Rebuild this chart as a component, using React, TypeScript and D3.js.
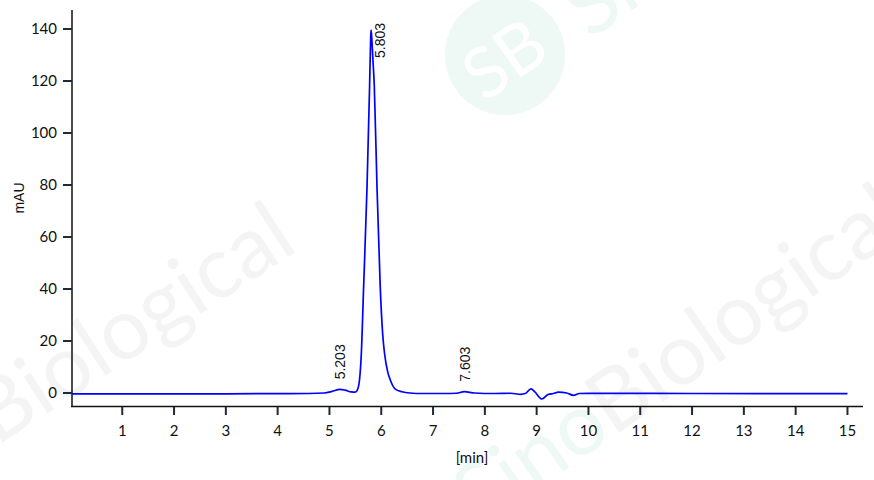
import React from "react";
import * as d3 from "d3";

// Chromatogram trace: retention time (min) and absorbance (mAU)
const times = [
  0.03, 1.0, 2.0, 3.0, 4.0, 4.6, 4.9, 5.05, 5.203, 5.3, 5.42, 5.5, 5.54, 5.58,
  5.615, 5.66, 5.725, 5.775, 5.795, 5.803, 5.815, 5.84, 5.866, 5.918, 5.98,
  6.03, 6.065, 6.12, 6.175, 6.27, 6.4, 6.55, 6.8, 7.2, 7.45, 7.603, 7.8, 8.2,
  8.5, 8.69, 8.78, 8.89, 8.97, 9.1, 9.22, 9.32, 9.42, 9.58, 9.71, 9.82, 10.0,
  12.0, 15.0,
];
const absorbance = [
  -0.3, -0.3, -0.3, -0.3, -0.25, -0.2, 0.0, 0.6, 1.4, 1.1, 0.4, 0.3, 1.2, 5,
  15, 41, 79, 118, 136, 139.6, 137, 128, 118, 79, 41,
  22, 15, 8.5, 5, 1.5, 0.5, 0.0, -0.2, -0.2, -0.1, 0.5, 0.0, -0.2,
  -0.1, -0.5, -0.2, 1.6, 0.3, -2.3, -0.6, -0.2, 0.3, 0.0, -0.9, -0.2, -0.15,
  -0.2, -0.25,
];

// Integrated peaks (retention time labels)
const peakTimes = [5.203, 5.803, 7.603];
const peakHeights = [1.4, 139.6, 0.5];

const xTicks = [1, 2, 3, 4, 5, 6, 7, 8, 9, 10, 11, 12, 13, 14, 15];
const yTicks = [0, 20, 40, 60, 80, 100, 120, 140];

const W = 874;
const H = 480;

export default function App() {
  const x = d3.scaleLinear().domain([0.03, 15.3]).range([72, 863]);
  const y = d3.scaleLinear().domain([-5, 147.3]).range([406, 10]);

  const points: [number, number][] = times.map((t, i) => [t, absorbance[i]]);
  const line = d3
    .line<[number, number]>()
    .x((d) => x(d[0]))
    .y((d) => y(d[1]))
    .curve(d3.curveMonotoneX);

  const tickFont = "Lato, 'Open Sans', sans-serif";
  const labelFont = "'Liberation Sans', Arial, sans-serif";
  const labelLen = 36;

  return (
    <svg
      width={W}
      height={H}
      style={{ position: "absolute", left: 0, top: 0, background: "#fff" }}
    >
      {/* watermark */}
      <g style={{ pointerEvents: "none" }} fontFamily="Lato, sans-serif">
        <g transform="translate(-140,535) rotate(-33)">
          <text fontSize={86} fill="#eef8f4">
            Sino<tspan fill="#f4f4f4">Biological</tspan>
          </text>
        </g>
        <g transform="translate(480,530) rotate(-35)">
          <text fontSize={86} fill="#eef8f4">
            Sino<tspan fill="#f4f4f4">Biological</tspan>
          </text>
        </g>
        <circle cx={505} cy={55} r={60} fill="#eef8f5" />
        <g transform="translate(503,57) rotate(-35)">
          <text
            fontSize={70}
            fill="#ffffff"
            textAnchor="middle"
            dominantBaseline="central"
          >
            SB
          </text>
        </g>
        <g transform="translate(590,40) rotate(-35)">
          <text fontSize={84} fill="#eef8f4">
            Sino
          </text>
        </g>
      </g>

      {/* axes */}
      <line x1={72} x2={72} y1={10} y2={407} stroke="#111" strokeWidth={1.5} />
      <line x1={71} x2={863} y1={406.5} y2={406.5} stroke="#111" strokeWidth={1.5} />

      {yTicks.map((v) => (
        <g key={"y" + v}>
          <line
            x1={63}
            x2={72}
            y1={y(v)}
            y2={y(v)}
            stroke="#1c2a3a"
            strokeWidth={2}
          />
          <text
            x={57}
            y={y(v)}
            dy="0.35em"
            textAnchor="end"
            fontSize={15}
            fontFamily={tickFont}
            fill="#111"
          >
            {v}
          </text>
        </g>
      ))}

      {xTicks.map((v) => (
        <g key={"x" + v}>
          <line
            x1={x(v)}
            x2={x(v)}
            y1={407}
            y2={415}
            stroke="#1c2a3a"
            strokeWidth={2}
          />
          <text
            x={x(v)}
            y={436}
            textAnchor="middle"
            fontSize={15}
            fontFamily={tickFont}
            fill="#111"
          >
            {v}
          </text>
        </g>
      ))}

      <text
        transform="translate(24,198) rotate(-90)"
        textAnchor="middle"
        fontSize={14}
        fontFamily={labelFont}
        fill="#111"
      >
        mAU
      </text>
      <text
        x={472}
        y={463}
        textAnchor="middle"
        fontSize={15}
        fontFamily={tickFont}
        fill="#111"
      >
        [min]
      </text>

      {/* trace */}
      <path
        d={line(points) || ""}
        fill="none"
        stroke="#0000ff"
        strokeWidth={1.7}
      />

      {/* peak labels */}
      {peakTimes.map((t, i) => {
        const px = x(t);
        const py = y(peakHeights[i]);
        let start = py - 10;
        let bx = px + 5.5;
        if (start - labelLen < 20) {
          start = 20 + labelLen + 2;
          bx = px + 14;
        }
        return (
          <text
            key={"p" + t}
            transform={`translate(${bx},${start}) rotate(-90)`}
            fontSize={14}
            fontFamily={labelFont}
            fill="#111"
          >
            {t.toFixed(3)}
          </text>
        );
      })}
    </svg>
  );
}
